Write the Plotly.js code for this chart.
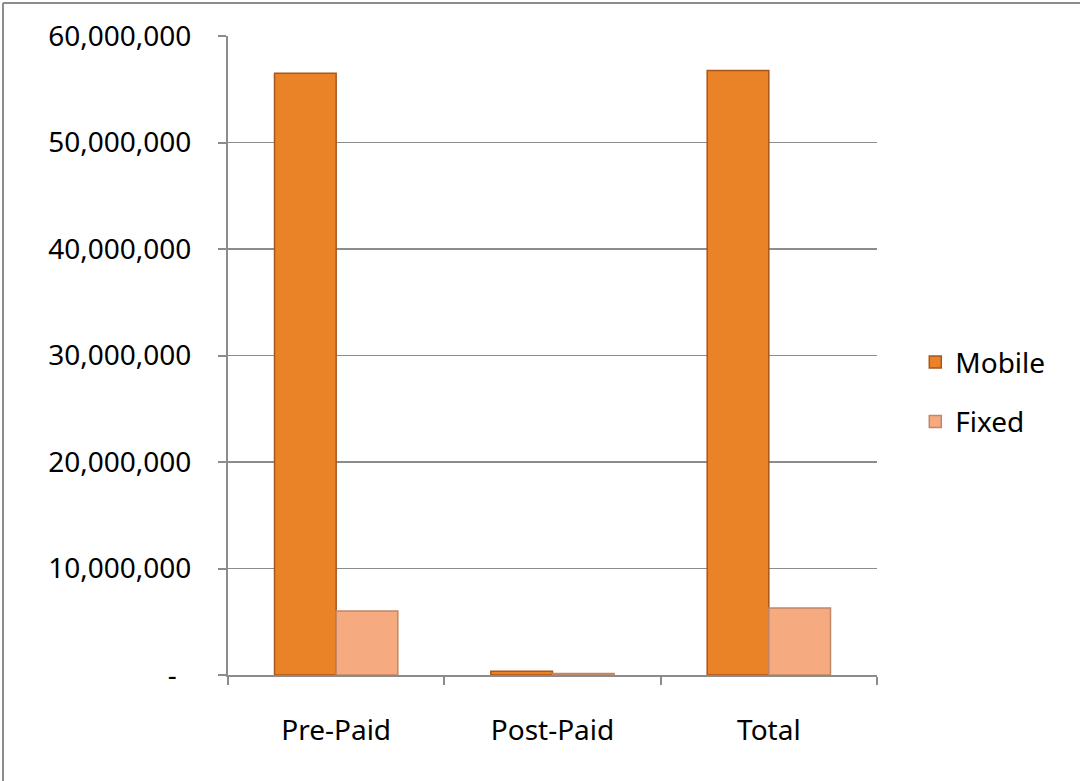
<!DOCTYPE html>
<html>
<head>
<meta charset="utf-8">
<script src="https://cdn.plot.ly/plotly-3.0.1.min.js"></script>
<style>
html,body{margin:0;padding:0;background:#fff;}
#chart{width:1080px;height:781px;}
</style>
</head>
<body>
<div id="chart"></div>
<script>
const categories = ["Pre-Paid", "Post-Paid", "Total"];
const mobileValues = [56500000, 350000, 56750000];
const fixedValues = [6000000, 150000, 6300000];
const yTickVals = [0, 10000000, 20000000, 30000000, 40000000, 50000000, 60000000];
const yTickText = ["-\u00a0\u00a0", "10,000,000", "20,000,000", "30,000,000", "40,000,000", "50,000,000", "60,000,000"];

const fontFam = "Noto Sans, Open Sans, sans-serif";

const traces = [
  {
    type: "bar", name: "Mobile", x: categories, y: mobileValues, legendgroup: "m",
    marker: {color: "#EA8228", line: {color: "#A9561B", width: 1.5}}
  },
  {
    type: "bar", name: "Fixed", x: categories, y: fixedValues, legendgroup: "f",
    marker: {color: "#F6AA80", line: {color: "#C08866", width: 1.5}}
  }
];

const layout = {
  width: 1080, height: 781,
  margin: {l: 228, r: 203, t: 36, b: 106},
  paper_bgcolor: "#fff", plot_bgcolor: "#fff",
  barmode: "group", bargap: 0.43, bargroupgap: 0,
  showlegend: true,
  legend: {x: 1.059, y: 0.443, xanchor: "left", yanchor: "middle",
    font: {family: fontFam, size: 28, color: "#000"}, tracegroupgap: 20, itemwidth: 30},
  font: {family: fontFam, size: 28, color: "#000"},
  xaxis: {
    type: "category", tickson: "boundaries", ticks: "outside", ticklen: 8,
    tickcolor: "#8c8c8c", tickwidth: 2, showline: true, linecolor: "#8c8c8c", linewidth: 2,
    showgrid: false, ticklabelstandoff: 29, tickfont: {family: fontFam, size: 28, color: "#000"}
  },
  yaxis: {
    range: [0, 60000000], tickvals: yTickVals, ticktext: yTickText,
    ticks: "outside", ticklen: 8, tickcolor: "#8c8c8c", tickwidth: 2,
    showline: true, linecolor: "#8c8c8c", linewidth: 2,
    showgrid: true, gridcolor: "#8c8c8c", gridwidth: 1.5, zeroline: false,
    ticklabelstandoff: 21, tickfont: {family: fontFam, size: 28, color: "#000"}
  },
  shapes: [
    {type: "line", xref: "paper", yref: "paper", x0: -0.3467, x1: 1.33, y0: 1.0516, y1: 1.0516, line: {color: "#8c8c8c", width: 2}},
    {type: "line", xref: "paper", yref: "paper", x0: -0.3467, x1: -0.3467, y0: 1.0516, y1: -0.2, line: {color: "#8c8c8c", width: 2}}
  ]
};

Plotly.newPlot("chart", traces, layout, {displayModeBar: false, staticPlot: true});
</script>
</body>
</html>
